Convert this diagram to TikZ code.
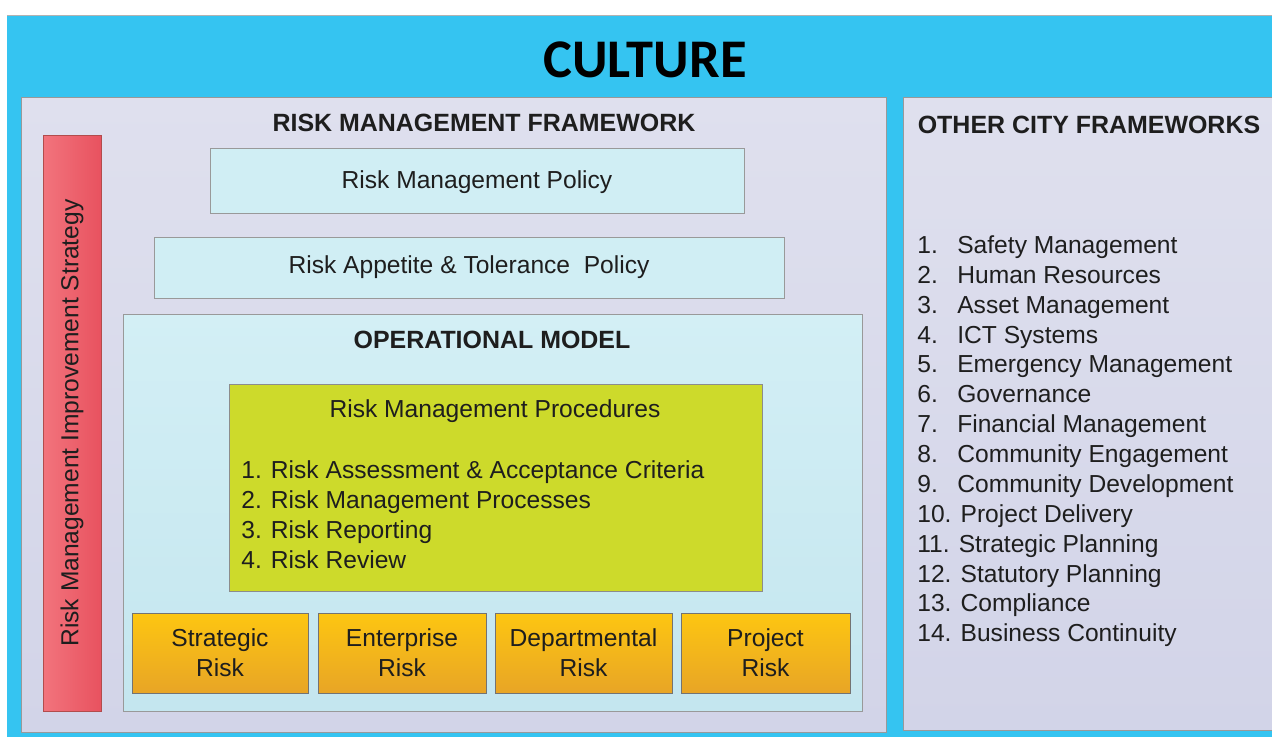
\documentclass[tikz,border=0pt]{standalone}
\usepackage{fontspec}
\setmainfont{Liberation Sans}
\newfontfamily\culturefont{Carlito}
\usepackage{tikz}

\definecolor{culture}{HTML}{35C4F1}
\definecolor{panel top}{HTML}{DFE0EE}
\definecolor{panel bottom}{HTML}{D2D4E8}
\definecolor{policy}{HTML}{D0EEF4}
\definecolor{opmodel top}{HTML}{D3EFF5}
\definecolor{opmodel bottom}{HTML}{C4E6EF}
\definecolor{procedure}{HTML}{CDDA2B}
\definecolor{risk top}{HTML}{FDC611}
\definecolor{risk bottom}{HTML}{E8A526}
\definecolor{improve left}{HTML}{F2747D}
\definecolor{improve right}{HTML}{E8525F}
\definecolor{ink}{HTML}{1E1E1E}

\begin{document}
\begin{tikzpicture}[x=0.02cm,y=-0.02cm,thin,text=ink,
  panel/.style={draw=gray!80,top color=panel top,bottom color=panel bottom},
  policy box/.style={draw=gray!80,fill=policy},
  model box/.style={draw=gray!80,top color=opmodel top,bottom color=opmodel bottom},
  procedure box/.style={draw=gray!90,fill=procedure},
  risk box/.style={draw=gray!90!black,top color=risk top,bottom color=risk bottom},
  improve bar/.style={draw=red!40!gray,left color=improve left,right color=improve right},
  body/.style={font=\fontsize{14}{17}\selectfont},
  heading/.style={font=\fontsize{14.2}{17}\selectfont\bfseries}]

  \useasboundingbox[fill=white] (0,0) rectangle (1272,737);

  % culture background
  \fill[culture] (7,15) rectangle (1272,737);
  \draw[gray!60] (7,15) -- (1272,15);
  \node[font=\culturefont\fontsize{31}{31}\selectfont\bfseries,text=black] (culture) at (645,60) {CULTURE};

  % risk management framework
  \draw[panel] (21,97) rectangle (886,732);
  \node[heading] (rmf) at (484,123) {RISK MANAGEMENT FRAMEWORK};

  \draw[improve bar] (43,135) rectangle node[body,rotate=90] (improve)
    {Risk Management Improvement Strategy} (101,711);

  \draw[policy box] (210,148) rectangle node[body,yshift=-1pt] (rmpolicy) {Risk Management Policy} (744,213);
  \draw[policy box] (154,237) rectangle node[body] (appetite) {Risk Appetite \& Tolerance\ \ Policy} (784,298);

  % operational model
  \draw[model box] (123,314) rectangle (862,711);
  \node[heading] (opmodel) at (492,340) {OPERATIONAL MODEL};

  \draw[procedure box] (229,384) rectangle (762,591);
  \node[body] (procedures) at (495,411) {Risk Management Procedures};
  \node[body,anchor=base west,inner sep=0pt] (proclist) at (241,478.5)
    {\begin{tabular}[t]{@{}l@{}}
      1. Risk Assessment \& Acceptance Criteria\\
      2. Risk Management Processes\\
      3. Risk Reporting\\
      4. Risk Review
    \end{tabular}};

  \draw[risk box] (132,613) rectangle node[body,align=center] (strategic) {Strategic\\Risk} (308,693);
  \draw[risk box] (318,613) rectangle node[body,align=center] (enterprise) {Enterprise\\Risk} (486,693);
  \draw[risk box] (495,613) rectangle node[body,align=center] (departmental) {Departmental\\Risk} (672,693);
  \draw[risk box] (681,613) rectangle node[body,align=center] (project) {Project\\Risk} (850,693);

  % other city frameworks
  \draw[panel] (903,97) rectangle (1272,730);
  \node[heading] (other) at (1089,125) {OTHER CITY FRAMEWORKS};
  \node[body,anchor=base west,inner sep=0pt] (otherlist) at (917,253.5)
    {\begin{tabular}[t]{@{}p{0.8cm}@{}l@{}}
      1. & Safety Management\\
      2. & Human Resources\\
      3. & Asset Management\\
      4. & ICT Systems\\
      5. & Emergency Management\\
      6. & Governance\\
      7. & Financial Management\\
      8. & Community Engagement\\
      9. & Community Development\\
      \multicolumn{2}{@{}l@{}}{10. Project Delivery}\\
      \multicolumn{2}{@{}l@{}}{11. Strategic Planning}\\
      \multicolumn{2}{@{}l@{}}{12. Statutory Planning}\\
      \multicolumn{2}{@{}l@{}}{13. Compliance}\\
      \multicolumn{2}{@{}l@{}}{14. Business Continuity}
    \end{tabular}};

\end{tikzpicture}
\end{document}
